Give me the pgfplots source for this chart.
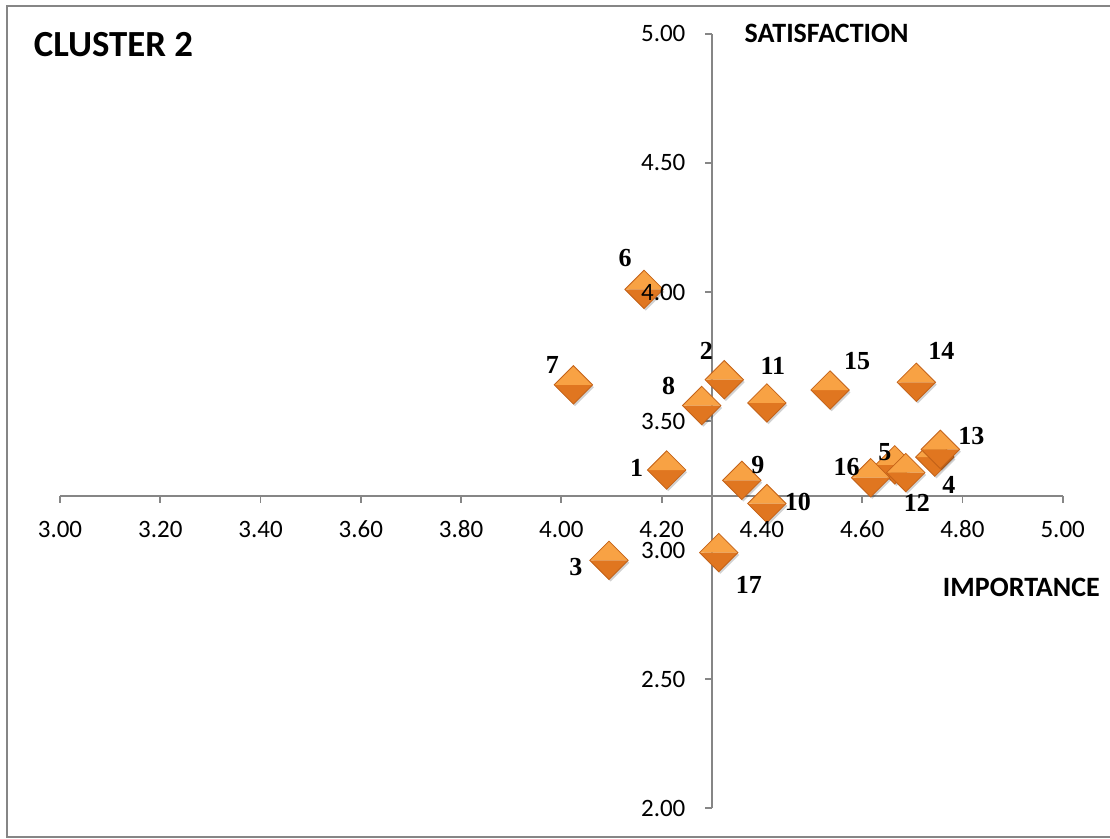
\documentclass[border=0pt]{standalone}
\usepackage{pgfplots}
\usepackage{pgfplotstable}
\pgfplotsset{compat=1.18}
\usepackage{fontspec}
\setmainfont{Liberation Serif}
\newfontfamily\carlito{Carlito}
\definecolor{axgray}{RGB}{134,134,134}
\definecolor{gemtop}{RGB}{248,162,68}
\definecolor{gembot}{RGB}{224,118,32}
\definecolor{gemedge}{RGB}{196,98,24}
\pgfdeclareplotmark{gem}{%
  \begin{pgfscope}
  \pgfsetfillcolor{black}\pgfsetfillopacity{0.18}
  \pgfpathmoveto{\pgfqpoint{-8.6pt}{-1.2pt}}
  \pgfpathlineto{\pgfqpoint{0.8pt}{8.2pt}}
  \pgfpathlineto{\pgfqpoint{10.2pt}{-1.2pt}}
  \pgfpathlineto{\pgfqpoint{0.8pt}{-10.6pt}}
  \pgfpathclose\pgfusepath{fill}
  \end{pgfscope}
  \begin{pgfscope}
  \pgfsetfillcolor{gembot}
  \pgfpathmoveto{\pgfqpoint{-9.6pt}{0pt}}
  \pgfpathlineto{\pgfqpoint{9.6pt}{0pt}}
  \pgfpathlineto{\pgfqpoint{0pt}{-9.6pt}}
  \pgfpathclose\pgfusepath{fill}
  \pgfsetfillcolor{gemtop}
  \pgfpathmoveto{\pgfqpoint{-9.6pt}{0pt}}
  \pgfpathlineto{\pgfqpoint{0pt}{9.6pt}}
  \pgfpathlineto{\pgfqpoint{9.6pt}{0pt}}
  \pgfpathclose\pgfusepath{fill}
  \pgfsetstrokecolor{gemedge}\pgfsetlinewidth{0.4pt}
  \pgfpathmoveto{\pgfqpoint{-9.6pt}{0pt}}
  \pgfpathlineto{\pgfqpoint{0pt}{9.6pt}}
  \pgfpathlineto{\pgfqpoint{9.6pt}{0pt}}
  \pgfpathlineto{\pgfqpoint{0pt}{-9.6pt}}
  \pgfpathclose\pgfusepath{stroke}
  \end{pgfscope}
}
\pgfplotstableread{
x y lab dx dy
4.21 3.31 1 -30 -2
4.325 3.66 2 -18 -29
4.095 2.96 3 -33 7
4.745 3.36 4 14 28
4.665 3.33 5 -10 -13
4.165 4.01 6 -19 -31
4.024 3.64 7 -21 -20
4.28 3.56 8 -33 -20
4.36 3.27 9 16 -15
4.41 3.18 10 31 -2
4.41 3.57 11 6 -37
4.687 3.30 12 11 30
4.756 3.39 13 31 -13
4.708 3.65 14 25 -31
4.536 3.62 15 27 -29
4.617 3.28 16 -24 -11
4.314 2.99 17 30 32
}\datatable
\begin{document}
\begin{tikzpicture}
\useasboundingbox (-30pt,-15.5pt) rectangle (525pt,404pt);
\fill[white] (-30pt,-15.5pt) rectangle (525pt,404pt);
\draw[axgray, line width=1pt] (-26.5pt,-14.5pt) rectangle (530pt,401pt);
\begin{axis}[
  scale only axis, width=501.35pt, height=387pt,
  xmin=3, xmax=5, ymin=2, ymax=5,
  hide axis, clip=false,
]
\draw[axgray, line width=0.9pt] (axis cs:3,3.21) -- (axis cs:5,3.21);
\draw[axgray, line width=0.9pt] (axis cs:4.3,2) -- (axis cs:4.3,5);
\pgfplotsinvokeforeach{3.0,3.2,3.4,3.6,3.8,4.0,4.2,4.4,4.6,4.8,5.0}{
  \draw[axgray, line width=0.9pt] (axis cs:#1,3.21) -- ++(0pt,-3.6pt);
}
\pgfplotsinvokeforeach{2.0,2.5,3.0,3.5,4.0,4.5,5.0}{
  \draw[axgray, line width=0.9pt] (axis cs:4.3,#1) -- ++(-3.6pt,0pt);
}
\addplot[only marks, mark=gem,
  point meta=explicit symbolic,
  nodes near coords,
  visualization depends on={\thisrow{dx} \as \dx},
  visualization depends on={\thisrow{dy} \as \dy},
  every node near coord/.append style={anchor=center, inner sep=0pt,
    xshift={\dx*0.5pt}, yshift={-\dy*0.5pt},
    font=\fontsize{13}{13}\selectfont\bfseries, text=black},
] table[x=x, y=y, meta=lab] {\datatable};
\end{axis}
\foreach \v in {3.0,3.2,3.4,3.6,3.8,4.0,4.2,4.4,4.6,4.8,5.0}{
  \pgfmathsetmacro\px{(\v-3)*250.675}
  \node[anchor=center, inner sep=0pt, font=\carlito\fontsize{12.5}{12.5}\selectfont]
    at (\px pt,139.4pt)
    {\pgfmathprintnumber[fixed,fixed zerofill,precision=2,assume math mode=true]{\v}};
}
\foreach \v in {2.0,2.5,3.0,3.5,4.0,4.5,5.0}{
  \pgfmathsetmacro\py{(\v-2)*129}
  \node[anchor=east, inner sep=0pt, font=\carlito\fontsize{12.5}{12.5}\selectfont]
    at (312.9pt,\py pt)
    {\pgfmathprintnumber[fixed,fixed zerofill,precision=2,assume math mode=true]{\v}};
}
\node[anchor=center, inner sep=0pt, font=\carlito\bfseries\fontsize{18.4}{18.4}\selectfont] at (26.7pt,381.5pt) {CLUSTER 2};
\node[anchor=center, inner sep=0pt, font=\carlito\bfseries\fontsize{14}{14}\selectfont] at (383.3pt,387.1pt) {SATISFACTION};
\node[anchor=center, inner sep=0pt, font=\carlito\bfseries\fontsize{14}{14}\selectfont] at (480.7pt,110.5pt) {IMPORTANCE};
\end{tikzpicture}
\end{document}
